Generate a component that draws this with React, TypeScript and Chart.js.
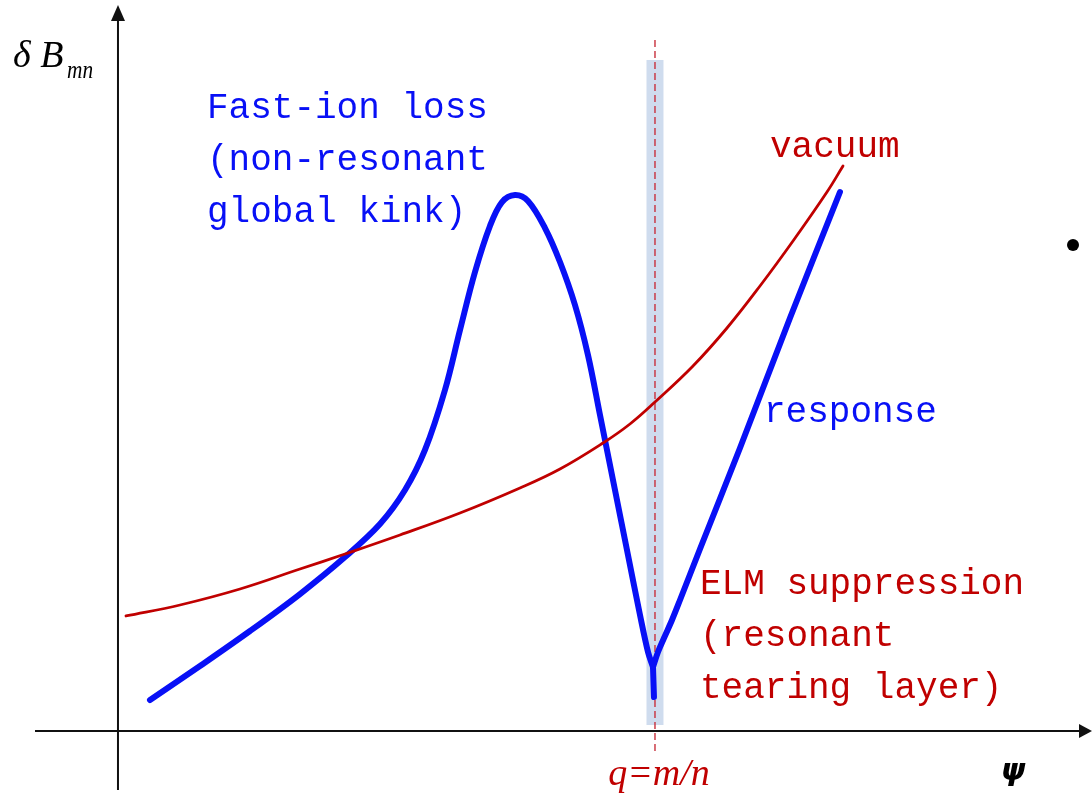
import React, { useEffect, useRef } from "react";
import { Chart, registerables } from "chart.js";

Chart.register(...registerables);

// ψ normalised so that the resonant surface q=m/n sits at ψ = 1; δB normalised to the kink peak.
const responseLeftX = [0.0596, 0.1527, 0.2458, 0.3389, 0.4227, 0.4879, 0.5345, 0.5717, 0.6089, 0.6369, 0.6648, 0.6927, 0.7151, 0.7393, 0.7635, 0.7952, 0.8231, 0.851, 0.8752, 0.8976, 0.9255, 0.9497, 0.9721, 0.987, 0.9963];
const responseLeftY = [0.0578, 0.1213, 0.1866, 0.2556, 0.3246, 0.3862, 0.4496, 0.5243, 0.6362, 0.7481, 0.8563, 0.9422, 0.9869, 1.0, 0.9888, 0.9384, 0.875, 0.7948, 0.7015, 0.5896, 0.4496, 0.3284, 0.2164, 0.1474, 0.1194];
const responseStemX = [0.9963, 0.9981];
const responseStemY = [0.1194, 0.0634];
const responseRightX = [0.9963, 1.0056, 1.0168, 1.0317, 1.0466, 1.0838, 1.1583, 1.2514, 1.3445];
const responseRightY = [0.1194, 0.1474, 0.1735, 0.2071, 0.2444, 0.3396, 0.528, 0.7705, 1.0056];

const vacuumX = [0.0149, 0.1155, 0.2272, 0.3389, 0.4227, 0.5251, 0.6369, 0.7486, 0.8231, 0.9032, 0.9534, 1.0, 1.0708, 1.1341, 1.1955, 1.257, 1.3203, 1.3501];
const vacuumY = [0.2146, 0.2351, 0.2649, 0.3022, 0.3302, 0.3657, 0.4067, 0.4534, 0.4888, 0.5373, 0.5728, 0.6138, 0.681, 0.7519, 0.8302, 0.9142, 1.0056, 1.0541];

const resonantPsi = [1.0];
const layerHalfWidth = [0.0158];
const layerRange = [0.0112, 1.2519];
const dashRange = [-0.0448, 1.2892];

const blueLabels = ["Fast-ion loss", "(non-resonant", "global kink)"];
const redLabels = ["ELM suppression", "(resonant", "tearing layer)"];
const vacuumLabel = "vacuum";
const responseLabel = "response";
const resonanceLabel = "q=m/n";
const xAxisLabel = "ψ";
const yAxisLabelMain = "δ B";
const yAxisLabelSub = "mn";

const BLUE = "#0810f6";
const RED = "#c00000";
const MONO = "'Liberation Mono', monospace";
const SERIF = "'Liberation Serif', serif";

const toPoints = (xs: number[], ys: number[]) => xs.map((x, i) => ({ x, y: ys[i] }));

const decorations = {
  id: "decorations",
  beforeDatasetsDraw(chart: any) {
    const ctx = chart.ctx;
    const xs = chart.scales.x;
    const ys = chart.scales.y;
    const x0 = xs.getPixelForValue(0);
    const y0 = ys.getPixelForValue(0);
    const xr = xs.getPixelForValue(resonantPsi[0]);
    ctx.save();
    const bl = xs.getPixelForValue(resonantPsi[0] - layerHalfWidth[0]);
    const br = xs.getPixelForValue(resonantPsi[0] + layerHalfWidth[0]);
    const bt = ys.getPixelForValue(layerRange[1]);
    const bb = ys.getPixelForValue(layerRange[0]);
    ctx.fillStyle = "#cfdcee";
    ctx.fillRect(bl, bt, br - bl, bb - bt);
    ctx.strokeStyle = "#c8303c";
    ctx.lineWidth = 1.4;
    ctx.setLineDash([7, 4]);
    ctx.beginPath();
    ctx.moveTo(xr, ys.getPixelForValue(dashRange[1]));
    ctx.lineTo(xr, ys.getPixelForValue(dashRange[0]));
    ctx.stroke();
    ctx.setLineDash([]);
    ctx.strokeStyle = "#111";
    ctx.fillStyle = "#111";
    ctx.lineWidth = 2;
    ctx.beginPath();
    ctx.moveTo(35, y0);
    ctx.lineTo(1082, y0);
    ctx.moveTo(x0, 790);
    ctx.lineTo(x0, 18);
    ctx.stroke();
    ctx.beginPath();
    ctx.moveTo(1092, y0);
    ctx.lineTo(1079, y0 - 7);
    ctx.lineTo(1079, y0 + 7);
    ctx.closePath();
    ctx.fill();
    ctx.beginPath();
    ctx.moveTo(x0, 5);
    ctx.lineTo(x0 - 7, 21);
    ctx.lineTo(x0 + 7, 21);
    ctx.closePath();
    ctx.fill();
    ctx.restore();
  },
  afterDatasetsDraw(chart: any) {
    const ctx = chart.ctx;
    const xs = chart.scales.x;
    const xr = xs.getPixelForValue(resonantPsi[0]);
    ctx.save();
    ctx.textBaseline = "middle";
    ctx.textAlign = "left";
    ctx.font = `36px ${MONO}`;
    ctx.fillStyle = BLUE;
    blueLabels.forEach((t, i) => ctx.fillText(t, 207, 108 + i * 52));
    ctx.fillText(responseLabel, 764, 412);
    ctx.fillStyle = RED;
    redLabels.forEach((t, i) => ctx.fillText(t, 700, 584 + i * 52));
    ctx.fillText(vacuumLabel, 770, 147);
    ctx.textBaseline = "alphabetic";
    ctx.textAlign = "center";
    ctx.font = `italic 38px ${SERIF}`;
    ctx.fillText(resonanceLabel, xr + 4, 785);
    ctx.fillStyle = "#000";
    ctx.font = `bold oblique 31px 'DejaVu Sans', sans-serif`;
    ctx.fillText(xAxisLabel, 1013, 780);
    ctx.textAlign = "left";
    ctx.font = `italic 38px ${SERIF}`;
    ctx.fillText(yAxisLabelMain, 13, 67);
    ctx.save();
    ctx.translate(67, 78);
    ctx.scale(0.82, 1);
    ctx.font = `italic 26px ${SERIF}`;
    ctx.fillText(yAxisLabelSub, 0, 0);
    ctx.restore();
    ctx.beginPath();
    ctx.arc(1073, 245, 6, 0, Math.PI * 2);
    ctx.fill();
    ctx.restore();
  },
};

export default function App() {
  const ref = useRef<HTMLCanvasElement>(null);
  useEffect(() => {
    if (!ref.current) return;
    const line = (data: any[], color: string, width: number, tension: number) => ({
      data,
      borderColor: color,
      borderWidth: width,
      showLine: true,
      pointRadius: 0,
      tension,
      borderCapStyle: "round",
      borderJoinStyle: "round",
      fill: false,
    });
    const chart = new Chart(ref.current, {
      type: "scatter",
      data: {
        datasets: [
          line(toPoints(vacuumX, vacuumY), RED, 2.8, 0.4) as any,
          line(toPoints(responseLeftX, responseLeftY), BLUE, 6, 0.35) as any,
          line(toPoints(responseStemX, responseStemY), BLUE, 6, 0) as any,
          line(toPoints(responseRightX, responseRightY), BLUE, 6, 0.35) as any,
        ],
      },
      options: {
        animation: false,
        responsive: true,
        maintainAspectRatio: false,
        layout: { padding: 0 },
        plugins: { legend: { display: false }, tooltip: { enabled: false } },
        events: [],
        scales: {
          x: { type: "linear", display: false, min: -0.2197, max: 1.8138 },
          y: { type: "linear", display: false, min: -0.1175, max: 1.3638 },
        },
      },
      plugins: [decorations],
    });
    return () => chart.destroy();
  }, []);
  return (
    <div style={{ position: "absolute", left: 0, top: 0, width: 1092, height: 794, background: "#fff" }}>
      <canvas ref={ref} />
    </div>
  );
}
